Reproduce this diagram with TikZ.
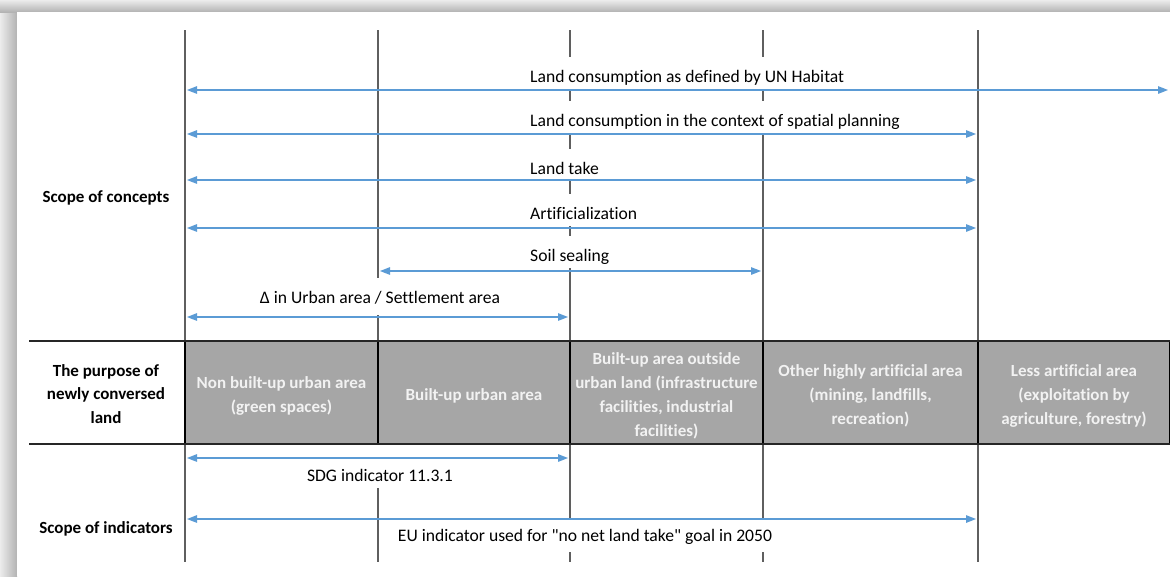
\documentclass[tikz,border=0pt]{standalone}
\usepackage{fontspec}
\setmainfont[Ligatures={NoCommon}]{Carlito}
\usetikzlibrary{arrows.meta}
\definecolor{arrblue}{HTML}{5B9BD5}
\definecolor{vgrey}{HTML}{5F5F5F}
\definecolor{cellgrey}{HTML}{A6A6A6}
\definecolor{celltext}{HTML}{F2F2F2}
\begin{document}
\begin{tikzpicture}[x=1pt,y=-1pt,
  vline/.style={draw=vgrey, line width=1.5pt},
  hline/.style={draw=black!85, line width=1.3pt},
  arr/.style={draw=arrblue, line width=1.3pt, {Triangle[length=10pt,width=7.5pt]}-{Triangle[length=10pt,width=7.5pt]}, shorten <=2pt, shorten >=2pt},
  lab/.style={fill=white, inner xsep=2pt, inner ysep=0pt, text height=25pt, text depth=7pt, font=\fontsize{17.6}{20}\selectfont},
  rowlab/.style={align=center, font=\fontsize{17}{23.5}\selectfont\bfseries},
  cell/.style={draw=black, line width=1.3pt, fill=cellgrey, inner sep=0pt, minimum height=103pt},
  celltxt/.style={text=celltext, align=center, inner sep=0pt, font=\fontsize{17}{24}\selectfont\bfseries}
]
\useasboundingbox (0,0) rectangle (1170,576);
% frame with shadow
\fill[gray!45] (0,0) rectangle (1170,576);
\shade[left color=gray!15, right color=gray!60] (0,0) rectangle (17,576);
\shade[top color=gray!15, bottom color=gray!60] (0,0) rectangle (1170,12);
\fill[white] (17,12) rectangle (1170,576);

% vertical lines
\foreach \n/\x in {a/185,b/378,c/570,d/763,e/978}{
  \coordinate (\n T) at (\x,30);
  \coordinate (\n B) at (\x,562);
  \draw[vline] (\n T) -- (\n B);
}

% grey band cells
\node[cell, minimum width=193pt] (c1) at (281.5,392.5) {};
\node[cell, minimum width=192pt] (c2) at (474,392.5) {};
\node[cell, minimum width=193pt] (c3) at (666.5,392.5) {};
\node[cell, minimum width=215pt] (c4) at (870.5,392.5) {};
\node[cell, minimum width=192pt] (c5) at (1074,392.5) {};
\node[celltxt] (c1t) at ([yshift=-3pt]c1.center) {Non built-up urban area\\(green spaces)};
\node[celltxt] (c2t) at ([yshift=-3pt]c2.center) {Built-up urban area};
\node[celltxt] (c3t) at ([yshift=-3pt]c3.center) {Built-up area outside\\urban land (infrastructure\\facilities, industrial\\facilities)};
\node[celltxt] (c4t) at ([yshift=-3pt]c4.center) {Other highly artificial area\\(mining, landfills,\\recreation)};
\node[celltxt] (c5t) at ([yshift=-3pt]c5.center) {Less artificial area\\(exploitation by\\agriculture, forestry)};

% horizontal rules
\coordinate (h1L) at (29,341); \coordinate (h1R) at (1170,341);
\coordinate (h2L) at (29,444); \coordinate (h2R) at (1170,444);
\draw[hline] (h1L) -- (h1R);
\draw[hline] (h2L) -- (h2R);

% row labels
\node[rowlab] (r1) at (106,198) {Scope of concepts};
\node[rowlab] (r2) at (106,394) {The purpose of\\newly conversed\\land};
\node[rowlab] (r3) at (106,529) {Scope of indicators};

% concept labels
\node[lab, anchor=base west] (t1) at (528,82) {Land consumption as defined by UN Habitat};
\node[lab, anchor=base west] (t2) at (528,126) {Land consumption in the context of spatial planning};
\node[lab, anchor=base west] (t3) at (528,174) {Land take};
\node[lab, anchor=base west] (t4) at (528,219) {Artificialization};
\node[lab, anchor=base west] (t5) at (528,261) {Soil sealing};
\node[lab, anchor=base, text depth=12pt] (t6) at (380,303) {Δ in Urban area / Settlement area};
% indicator labels
\node[lab, anchor=base, text height=36pt] (t7) at (380,481) {SDG indicator 11.3.1};
\node[lab, anchor=base, text height=21pt, text depth=11pt] (t8) at (585,541) {EU indicator used for \textquotedbl no net land take\textquotedbl{} goal in 2050};

% arrows
\coordinate (p1L) at (185,90);  \coordinate (p1R) at (1170,90);
\coordinate (p2L) at (185,134); \coordinate (p2R) at (978,134);
\coordinate (p3L) at (185,180); \coordinate (p3R) at (978,180);
\coordinate (p4L) at (185,228); \coordinate (p4R) at (978,228);
\coordinate (p5L) at (378,271); \coordinate (p5R) at (763,271);
\coordinate (p6L) at (185,317); \coordinate (p6R) at (570,317);
\coordinate (p7L) at (185,458); \coordinate (p7R) at (570,458);
\coordinate (p8L) at (185,519); \coordinate (p8R) at (978,519);
\foreach \i in {1,...,8}{ \draw[arr] (p\i L) -- (p\i R); }
\end{tikzpicture}
\end{document}
